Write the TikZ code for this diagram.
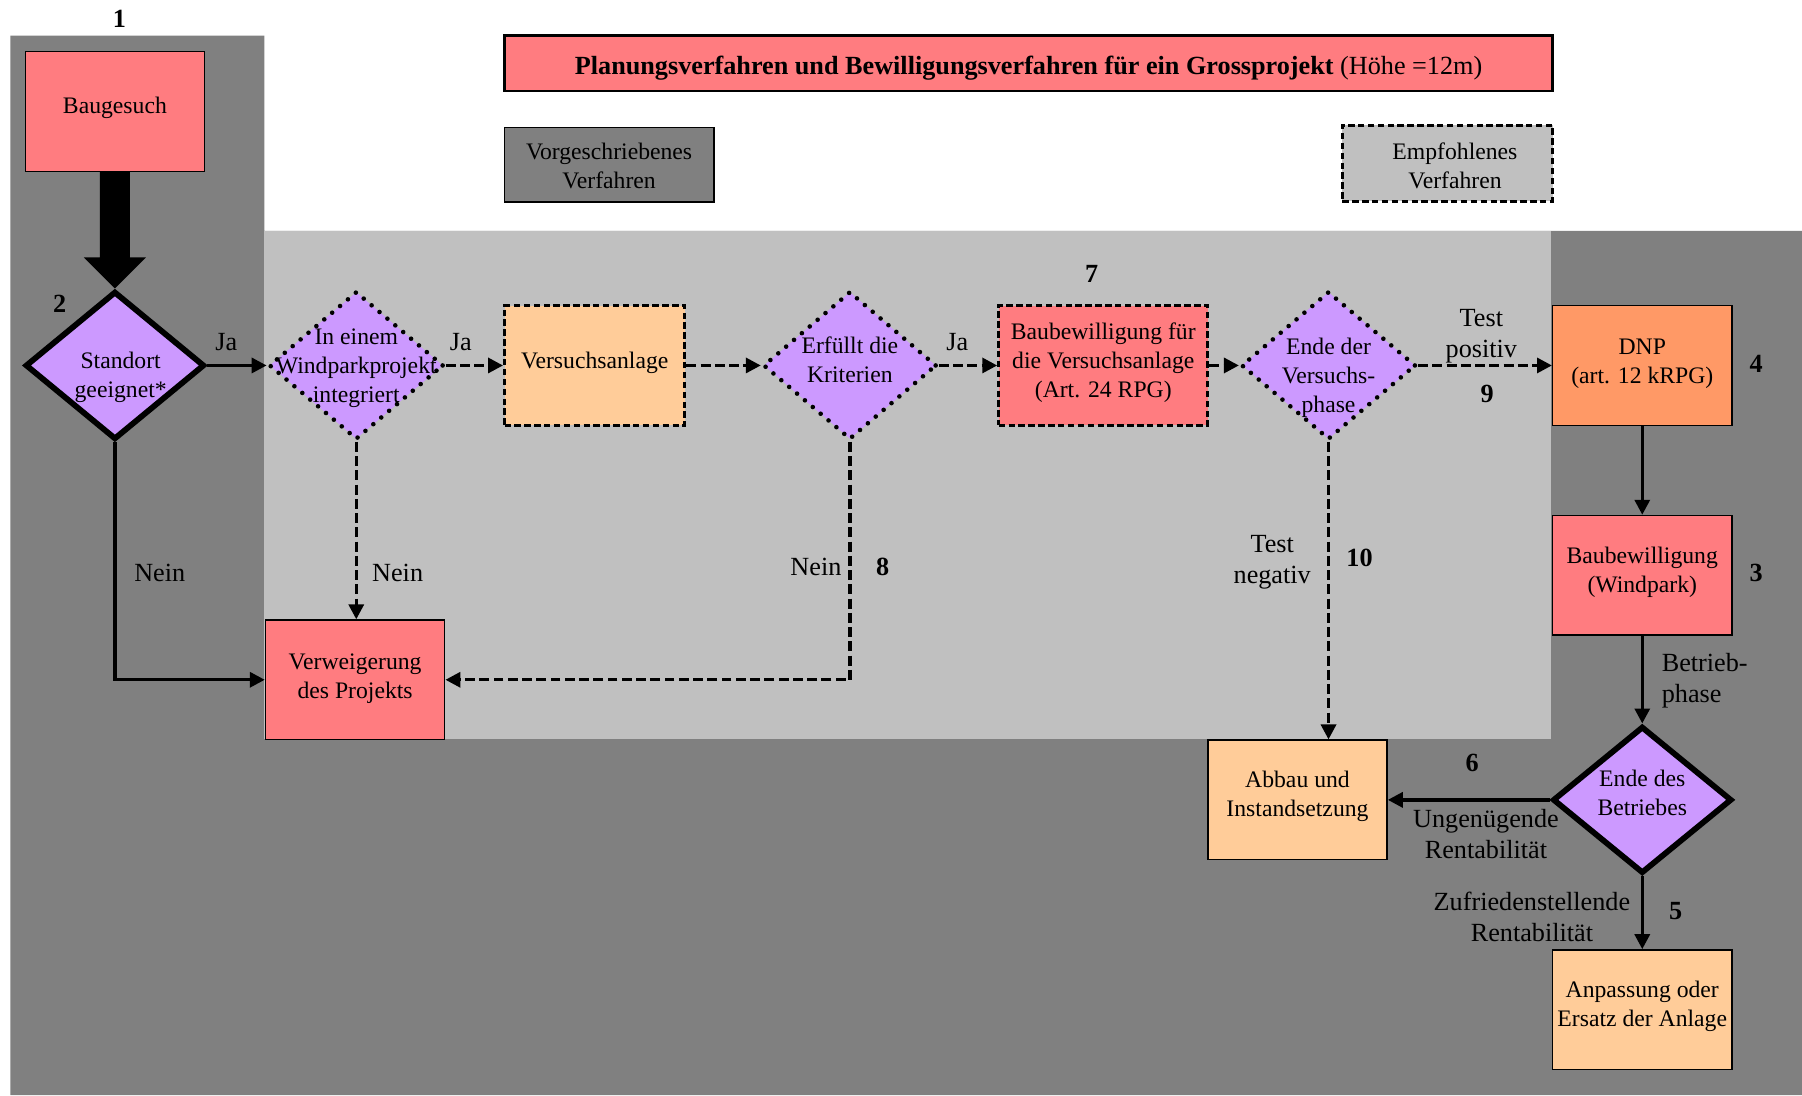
\documentclass[tikz,border=0pt]{standalone}
\usepackage{fontspec}
\setmainfont{Liberation Serif}
\usetikzlibrary{shapes.geometric,arrows.meta,calc}
\definecolor{pinkred}{HTML}{FF7C80}
\definecolor{lav}{HTML}{CC99FF}
\definecolor{peach}{HTML}{FFCC99}
\definecolor{orng}{HTML}{FF9966}
\definecolor{dgray}{HTML}{808080}
\definecolor{lgray}{HTML}{C0C0C0}
\newcommand{\boxfont}{\fontsize{10.3pt}{12.6pt}\selectfont}
\newcommand{\lblfont}{\fontsize{11.4pt}{13.5pt}\selectfont}
\newcommand{\tx}[2][-1pt]{\makebox[0pt]{\raisebox{#1}{\begin{tabular}{@{}c@{}}#2\end{tabular}}}}
\newcommand{\txx}[3]{\makebox[0pt]{\hspace{#1}\raisebox{#2}{\begin{tabular}{@{}c@{}}#3\end{tabular}}}}
\newcommand{\txl}[1]{\makebox[0pt][l]{\raisebox{-1pt}{\begin{tabular}{@{}l@{}}#1\end{tabular}}}}
\tikzset{
  base/.style={inner sep=0pt, text height=0pt, text depth=0pt},
  box/.style={base, rectangle, draw, line width=0.6pt, minimum width=78pt, minimum height=52pt},
  dbox/.style={box, line width=1.3pt, dash pattern=on 2.8pt off 1.5pt},
  tdiam/.style={base, diamond, draw, line width=2.5pt, fill=lav, minimum width=78pt, minimum height=64.5pt},
  ddiam/.style={base, diamond, draw, line width=2pt, dash pattern=on 0pt off 4.5pt, line cap=round, fill=lav, minimum width=76pt, minimum height=64.5pt},
  lbl/.style={base, font=\lblfont, yshift=-3pt},
  num/.style={base, font=\lblfont\bfseries, yshift=-3pt},
  conn/.style={line width=1.45pt, -{Triangle[length=6.5pt,width=6.5pt]}},
  dconn/.style={conn, dash pattern=on 4.3pt off 1.9pt},
}
\begin{document}
\begin{tikzpicture}[x=0.5pt,y=-0.5pt,font=\boxfont]
\useasboundingbox (0,0) rectangle (1568,953);
% backgrounds
\fill[dgray] (9,31) -- (230,31) -- (230,201) -- (1568,201) -- (1568,953) -- (9,953) -- cycle;
\fill[lgray] (230,201) rectangle (1350,643);

% title and legend
\node[box, fill=pinkred, line width=1pt, minimum width=456pt, minimum height=24pt, font=\lblfont] (title) at (895,55)
  {\tx[-5pt]{\textbf{Planungsverfahren und Bewilligungsverfahren für ein Grossprojekt} (Höhe =12m)}};
\node[box, fill=dgray, line width=0.8pt, minimum width=91pt, minimum height=32.5pt] (leg1) at (530,143.5)
  {\tx[-4pt]{Vorgeschriebenes\\Verfahren}};
\node[dbox, fill=lgray, minimum width=91.5pt, minimum height=33pt] (leg2) at (1259.5,142)
  {\txx{6.5pt}{-4.5pt}{Empfohlenes\\Verfahren}};

% boxes
\node[box, fill=pinkred] (bg) at (100,97) {\tx{Baugesuch}};
\node[box, fill=pinkred] (ver) at (309,591.5) {\tx[-2pt]{Verweigerung\\des Projekts}};
\node[dbox, fill=peach, minimum width=78.5pt] (va) at (517.5,318) {\tx[-1.5pt]{Versuchsanlage}};
\node[dbox, fill=pinkred, minimum width=91pt] (bv) at (960,318) {\tx[-1.5pt]{Baubewilligung für\\die Versuchsanlage\\(Art. 24 RPG)}};
\node[box, fill=orng] (dnp) at (1429,318) {\tx[-1.7pt]{DNP\\(art. 12 kRPG)}};
\node[box, fill=pinkred] (bw) at (1429,500.5) {\tx{Baubewilligung\\(Windpark)}};
\node[box, fill=peach] (ab) at (1129,696) {\tx{Abbau und\\Instandsetzung}};
\node[box, fill=peach] (an) at (1429,878.5) {\tx{Anpassung oder\\Ersatz der Anlage}};

% diamonds
\node[tdiam] (d1) at (100,318) {\txx{5pt}{-7.5pt}{Standort\\geeignet*}};
\node[ddiam] (d2) at (310,318) {\tx[-3.5pt]{In einem\\Windparkprojekt\\integriert}};
\node[ddiam, minimum width=75.5pt] (d3) at (739.5,318) {\tx[-1pt]{Erfüllt die\\Kriterien}};
\node[ddiam] (d4) at (1156,318) {\tx[-8pt]{Ende der\\Versuchs-\\phase}};
\node[tdiam, minimum height=64pt] (d5) at (1429,696) {\tx[-0.5pt]{Ende des\\Betriebes}};

% big arrow
\fill ($(bg.south)+(-13,0)$) -- ($(d1.north)+(-13,-27)$) -- ($(d1.north)+(-27,-27)$) -- (d1.north)
  -- ($(d1.north)+(27,-27)$) -- ($(d1.north)+(13,-27)$) -- ($(bg.south)+(13,0)$) -- cycle;

% connectors
\draw[conn] (d1.east) -- (d2.west);
\draw[dconn] (d2.east) -- (va.west);
\draw[dconn] (va.east) -- (d3.west);
\draw[dconn] (d3.east) -- (bv.west);
\draw[dconn] (bv.east) -- (d4.west);
\draw[dconn] (d4.east) -- (dnp.west);
\draw[conn] (dnp.south) -- (bw.north);
\draw[conn] (bw.south) -- (d5.north);
\draw[conn] (d5.west) -- (ab.east);
\draw[conn] (d5.south) -- (an.north);
\draw[dconn] (d4.south) -- (d4.south |- ab.north);
\draw[dconn] (d2.south) -- (d2.south |- ver.north);
\draw[conn] (d1.south) |- (ver.west);
\draw[dconn] (d3.south) |- (ver.east);

% labels
\node[lbl] (ja1) at (197,297) {\tx{Ja}};
\node[lbl] (ja2) at (401,297) {\tx{Ja}};
\node[lbl] (ja3) at (833,297) {\tx{Ja}};
\node[lbl] (tpos) at (1289,290) {\tx{Test\\positiv}};
\node[lbl] (tneg) at (1107,486) {\tx{Test\\negativ}};
\node[lbl] (bph) at (1446,590) {\txl{Betrieb-\\phase}};
\node[lbl] (ungen) at (1293,726) {\tx{Ungenügende\\Rentabilität}};
\node[lbl] (zufr) at (1333,798) {\tx{Zufriedenstellende\\Rentabilität}};
\node[lbl] (nein1) at (139,498) {\tx{Nein}};
\node[lbl] (nein2) at (346,498) {\tx{Nein}};
\node[lbl] (nein3) at (710,493) {\tx{Nein}};

% numbers
\node[num] (n1) at (104,16) {\tx{1}};
\node[num] (n2) at (52,264) {\tx{2}};
\node[num] (n7) at (950,238) {\tx{7}};
\node[num] (n4) at (1528,316) {\tx{4}};
\node[num] (n3) at (1528,498) {\tx{3}};
\node[num] (n9) at (1294,342) {\tx{9}};
\node[num] (n10) at (1183,485) {\tx{10}};
\node[num] (n8) at (768,493) {\tx{8}};
\node[num] (n6) at (1281,663) {\tx{6}};
\node[num] (n5) at (1458,792) {\tx{5}};
\end{tikzpicture}
\end{document}
